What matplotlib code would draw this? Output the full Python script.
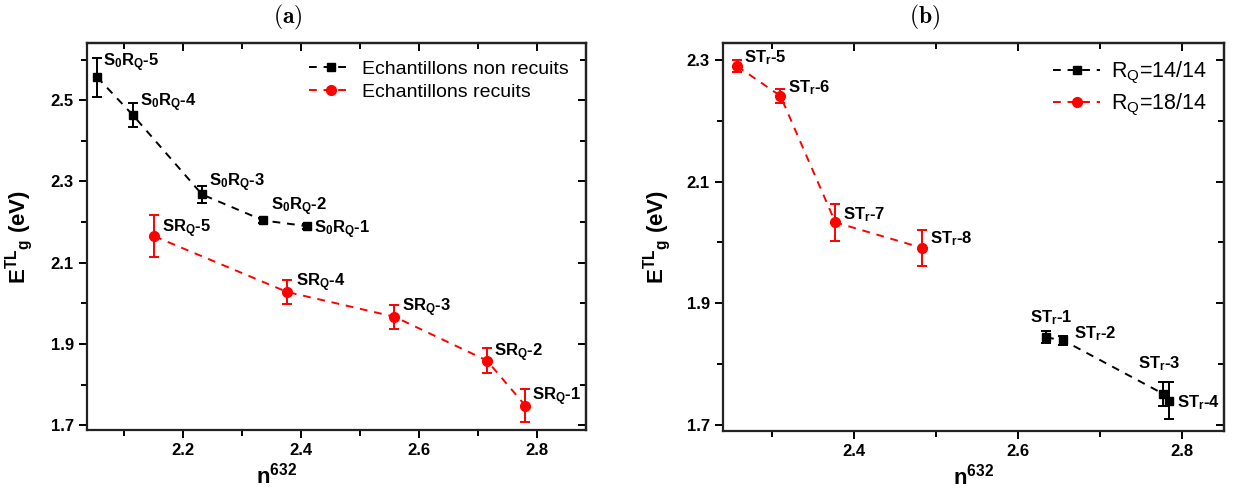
import matplotlib
matplotlib.use("Agg")
import matplotlib.pyplot as plt
from matplotlib.lines import Line2D
from matplotlib.ticker import MultipleLocator

# ---- data ----
# panel (a)
n_a_black = [2.054, 2.115, 2.232, 2.336, 2.410]
E_a_black = [2.557, 2.463, 2.268, 2.204, 2.190]
err_a_black = [0.048, 0.030, 0.020, 0.006, 0.006]
lab_a_black = [r'S$_\mathbf{0}$R$_\mathbf{Q}$-5', r'S$_\mathbf{0}$R$_\mathbf{Q}$-4',
               r'S$_\mathbf{0}$R$_\mathbf{Q}$-3', r'S$_\mathbf{0}$R$_\mathbf{Q}$-2',
               r'S$_\mathbf{0}$R$_\mathbf{Q}$-1']

n_a_red = [2.151, 2.376, 2.558, 2.715, 2.780]
E_a_red = [2.165, 2.028, 1.967, 1.859, 1.748]
err_a_red = [0.052, 0.030, 0.030, 0.030, 0.040]
lab_a_red = [r'SR$_\mathbf{Q}$-5', r'SR$_\mathbf{Q}$-4', r'SR$_\mathbf{Q}$-3',
             r'SR$_\mathbf{Q}$-2', r'SR$_\mathbf{Q}$-1']

# panel (b)
n_b_black = [2.634, 2.655, 2.777, 2.784]
E_b_black = [1.844, 1.839, 1.751, 1.740]
err_b_black = [0.010, 0.008, 0.020, 0.030]
lab_b_black = [r'ST$_\mathbf{r}$-1', r'ST$_\mathbf{r}$-2', r'ST$_\mathbf{r}$-3', r'ST$_\mathbf{r}$-4']

n_b_red = [2.257, 2.310, 2.377, 2.483]
E_b_red = [2.290, 2.241, 2.033, 1.991]
err_b_red = [0.010, 0.012, 0.030, 0.030]
lab_b_red = [r'ST$_\mathbf{r}$-5', r'ST$_\mathbf{r}$-6', r'ST$_\mathbf{r}$-7', r'ST$_\mathbf{r}$-8']

leg_a = ['Echantillons non recuits', 'Echantillons recuits']
leg_b = [r'R$_Q$=14/14', r'R$_Q$=18/14']

# label offsets in pixels (dx, dy)
off_a_black = [(6, 14), (7, 13), (7, 12), (8, 14), (7, -4)]
off_a_red = [(8, 8), (9, 9), (8, 9), (7, 8), (7, 9)]
off_b_black = [(-16, 20), (11, 7), (-25, 30), (8, -2)]
off_b_red = [(7, 8), (8, 8), (8, 8), (8, 9)]

plt.rcParams['font.family'] = ['Liberation Sans', 'DejaVu Sans']
plt.rcParams['mathtext.fontset'] = 'custom'
plt.rcParams['mathtext.rm'] = 'Liberation Sans'
plt.rcParams['mathtext.bf'] = 'Liberation Sans:bold'
plt.rcParams['mathtext.it'] = 'Liberation Sans'
plt.rcParams['mathtext.default'] = 'rm'

fig = plt.figure(figsize=(12.33, 4.92), dpi=100)
ax_a = fig.add_axes([0.0706, 0.126, 0.4047, 0.7866])
ax_b = fig.add_axes([0.5864, 0.124, 0.4063, 0.7886])

DASH = (0, (4, 3.5))


def draw_series(ax, x, y, err, color, marker, ms):
    ax.errorbar(x, y, yerr=err, color=color, ecolor=color, marker=marker, ms=ms,
                ls=DASH, lw=1.4, elinewidth=1.4, capsize=3.5, capthick=1.4)


def annotate(ax, x, y, labels, offs):
    for xi, yi, t, o in zip(x, y, labels, offs):
        ax.annotate(t, (xi, yi), xytext=o, textcoords='offset pixels',
                    fontsize=12, fontweight='bold', ha='left', va='center')


def set_locators(axis, maj, off):
    axis.set_major_locator(MultipleLocator(maj, offset=off))
    axis.set_minor_locator(MultipleLocator(maj / 2))


def style(ax, xlim, ylim, xoff, yoff):
    ax.set_xlim(*xlim)
    ax.set_ylim(*ylim)
    set_locators(ax.xaxis, 0.2, xoff)
    set_locators(ax.yaxis, 0.2, yoff)
    ax.tick_params(which='both', direction='out', width=1.4, labelsize=12)
    ax.tick_params(which='major', length=6)
    ax.tick_params(which='minor', length=4)
    for lab in ax.get_xticklabels() + ax.get_yticklabels():
        lab.set_fontweight('bold')
    for s in ax.spines.values():
        s.set_linewidth(1.6)
        s.set_color('#222222')
    # inward ticks on top / right
    top = ax.secondary_xaxis('top')
    set_locators(top.xaxis, 0.2, xoff)
    top.tick_params(which='both', direction='in', width=1.4, labeltop=False)
    top.tick_params(which='major', length=6)
    top.tick_params(which='minor', length=4)
    right = ax.secondary_yaxis('right')
    set_locators(right.yaxis, 0.2, yoff)
    right.tick_params(which='both', direction='in', width=1.4, labelright=False)
    right.tick_params(which='major', length=6)
    right.tick_params(which='minor', length=4)
    for s in list(top.spines.values()) + list(right.spines.values()):
        s.set_linewidth(1.6)
        s.set_color('#222222')
    ax.set_ylabel(r'E$^\mathbf{TL}{}_\mathbf{g}$ (eV)', fontsize=16, fontweight='bold')
    ax.set_xlabel(r'n$^\mathbf{632}$', fontsize=16, fontweight='bold')


def legend(ax, labels, fs, pad, spacing):
    handles = [Line2D([], [], color='black', marker='s', ms=6, ls=DASH, lw=1.4),
               Line2D([], [], color='#ff0000', marker='o', ms=7, ls=DASH, lw=1.4)]
    ax.legend(handles, labels, loc='upper right', frameon=False, fontsize=fs,
              handlelength=2.2, handletextpad=0.5, borderaxespad=pad,
              labelspacing=spacing)


# panel (a)
draw_series(ax_a, n_a_black, E_a_black, err_a_black, 'black', 's', 6)
draw_series(ax_a, n_a_red, E_a_red, err_a_red, '#ff0000', 'o', 7)
annotate(ax_a, n_a_black, E_a_black, lab_a_black, off_a_black)
annotate(ax_a, n_a_red, E_a_red, lab_a_red, off_a_red)
style(ax_a, (2.037, 2.883), (1.688, 2.641), 0.0, 0.1)
ax_a.xaxis.set_label_coords(0.38, -0.085)
ax_a.yaxis.set_label_coords(-0.105, 0.5)
legend(ax_a, leg_a, 14, 0.5, 0.25)

# panel (b)
draw_series(ax_b, n_b_black, E_b_black, err_b_black, 'black', 's', 6)
draw_series(ax_b, n_b_red, E_b_red, err_b_red, '#ff0000', 'o', 7)
annotate(ax_b, n_b_black, E_b_black, lab_b_black, off_b_black)
annotate(ax_b, n_b_red, E_b_red, lab_b_red, off_b_red)
style(ax_b, (2.240, 2.851), (1.690, 2.328), 0.0, 0.1)
ax_b.xaxis.set_label_coords(0.5, -0.085)
ax_b.yaxis.set_label_coords(-0.1, 0.5)
legend(ax_b, leg_b, 15.5, 0.4, 0.25)

fig.text(288 / 1233, 1 - 17 / 492, r'$\mathbf{(a)}$', math_fontfamily='cm',
         fontsize=17, ha='center', va='center')
fig.text(925 / 1233, 1 - 17 / 492, r'$\mathbf{(b)}$', math_fontfamily='cm',
         fontsize=17, ha='center', va='center')

fig.savefig('out.png', dpi=100)
